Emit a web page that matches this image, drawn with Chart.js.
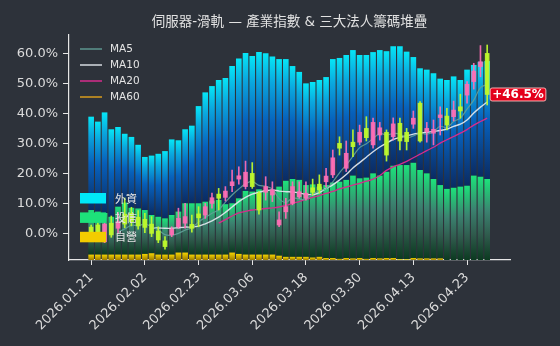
<!DOCTYPE html>
<html>
<head>
<meta charset="utf-8">
<script src="https://cdn.jsdelivr.net/npm/chart.js@4.4.1/dist/chart.umd.min.js"></script>
<style>
  html, body { margin: 0; padding: 0; background: #2d323a; }
  #wrap { width: 560px; height: 346px; }
</style>
</head>
<body>
<div id="wrap"><canvas id="chart" width="560" height="346"></canvas></div>
<script>
// trading days shown on the x axis
const dates = [
  "2026.01.21", "2026.01.22", "2026.01.23", "2026.01.26", "2026.01.27", "2026.01.28", "2026.01.29", "2026.01.30",
  "2026.02.02", "2026.02.03", "2026.02.04", "2026.02.05", "2026.02.06", "2026.02.09", "2026.02.10", "2026.02.11",
  "2026.02.23", "2026.02.24", "2026.02.25", "2026.02.26", "2026.03.02", "2026.03.03", "2026.03.04", "2026.03.05",
  "2026.03.06", "2026.03.09", "2026.03.10", "2026.03.11", "2026.03.12", "2026.03.13", "2026.03.16", "2026.03.17",
  "2026.03.18", "2026.03.19", "2026.03.20", "2026.03.23", "2026.03.24", "2026.03.25", "2026.03.26", "2026.03.27",
  "2026.03.30", "2026.03.31", "2026.04.01", "2026.04.02", "2026.04.07", "2026.04.08", "2026.04.09", "2026.04.10",
  "2026.04.13", "2026.04.14", "2026.04.15", "2026.04.16", "2026.04.17", "2026.04.20", "2026.04.21", "2026.04.22",
  "2026.04.23", "2026.04.24", "2026.04.27", "2026.04.28"
];
const tickIdx = [0, 8, 16, 24, 32, 40, 48, 56];
const yTicks = [0, 10, 20, 30, 40, 50, 60];

// industry index, cumulative return in %
const opens = [2.3, 3.0, -2.6, 3.6, 1.9, 6.6, 6.9, 5.6, 4.9, 3.3, 1.0, -2.3, -0.3, 2.4, 3.6, 3.2,
  6.7, 6.3, 10.2, 13.3, 12.2, 16.1, 18.3, 15.8, 20.2, 13.6, 13.9, 13.0, 3.0, 7.4, 10.2, 12.4,
  11.9, 15.4, 16.6, 17.4, 19.7, 30.2, 21.9, 30.6, 30.6, 35.2, 29.7, 33.0, 33.9, 32.4, 36.9, 33.9,
  36.6, 43.6, 34.1, 33.6, 38.8, 39.3, 39.1, 42.4, 46.3, 50.8, 55.8, 60.2];
const highs = [3.0, 4.4, 4.9, 6.0, 7.1, 12.0, 8.9, 7.8, 6.9, 5.8, 2.4, -0.9, 2.4, 8.6, 10.2, 6.3,
  9.1, 10.2, 13.6, 15.2, 15.8, 21.3, 22.4, 24.3, 23.8, 14.1, 19.1, 17.4, 7.4, 11.9, 17.4, 17.4,
  17.4, 18.3, 19.7, 21.9, 28.0, 32.4, 31.0, 34.7, 36.3, 39.1, 38.6, 37.2, 34.7, 38.7, 38.6, 35.2,
  41.0, 44.1, 37.2, 38.0, 42.4, 41.9, 44.3, 46.6, 50.8, 56.9, 62.8, 63.0];
const lows = [-2.6, -2.6, -2.9, -1.1, 0.2, 2.1, 2.7, 1.6, 0.4, -0.9, -2.9, -5.1, -0.9, 1.9, 1.9, 0.6,
  2.4, 5.2, 8.6, 8.0, 11.0, 14.1, 16.6, 15.0, 15.2, 6.6, 11.3, 10.8, 2.4, 5.2, 9.7, 11.9,
  11.3, 13.0, 13.6, 15.8, 18.8, 26.3, 20.8, 25.8, 29.7, 31.0, 28.6, 31.3, 24.3, 31.3, 28.0, 28.0,
  35.2, 30.6, 30.6, 29.7, 33.0, 34.7, 37.7, 38.6, 43.6, 48.3, 52.4, 43.0];
const closes = [-2.0, -2.0, 3.3, -0.3, 4.1, 3.3, 4.1, 2.7, 2.2, 0.2, -2.0, -4.2, 1.6, 5.2, 5.8, 1.9,
  5.4, 9.1, 12.1, 11.9, 14.3, 17.4, 19.4, 20.6, 15.8, 8.0, 15.8, 14.7, 4.7, 9.1, 15.8, 14.1,
  13.6, 13.9, 14.7, 19.3, 25.4, 28.6, 26.9, 29.1, 33.9, 32.1, 37.2, 35.4, 26.3, 36.7, 31.0, 30.8,
  38.6, 31.0, 35.2, 34.9, 39.7, 36.3, 41.3, 41.0, 49.9, 54.3, 57.4, 46.5];

const ma5 = [null, null, null, null, 0.6, 1.7, 2.9, 2.8, 3.3, 2.5, 1.4, -0.2, -0.4, 0.2, 1.3, 2.1,
  4.0, 5.5, 6.9, 8.1, 10.6, 13.0, 15.0, 16.7, 17.5, 16.2, 15.9, 15.0, 11.8, 10.5, 12.0, 11.7,
  11.5, 13.3, 14.4, 15.1, 17.4, 20.4, 23.0, 25.9, 28.8, 30.1, 31.8, 33.5, 33.0, 33.5, 33.3, 32.0,
  32.7, 33.6, 33.3, 34.1, 35.9, 35.4, 37.5, 38.6, 41.6, 44.6, 48.8, 49.8];
const ma10 = [null, null, null, null, null, null, null, null, null, 2.0, 2.0, 1.9, 1.9, 2.1, 2.3, 2.3,
  2.6, 3.4, 4.4, 5.6, 7.2, 9.0, 10.8, 12.2, 13.3, 13.9, 14.4, 14.7, 14.3, 14.1, 14.0, 13.7,
  13.2, 13.1, 13.8, 15.2, 16.4, 18.0, 19.8, 22.0, 23.8, 25.6, 27.4, 29.0, 30.3, 31.5, 32.2, 32.7,
  33.3, 33.6, 33.9, 34.2, 34.5, 35.0, 35.9, 36.6, 38.0, 40.3, 42.3, 44.0];
const ma20 = [null, null, null, null, null, null, null, null, null, null, null, null, null, null, null, null,
  null, null, null, 3.6, 4.8, 6.0, 7.0, 7.5, 8.0, 8.2, 8.5, 8.7, 9.0, 9.5, 10.2, 10.8,
  11.5, 12.2, 12.8, 13.5, 14.2, 15.0, 15.6, 16.3, 16.9, 17.6, 18.3, 19.5, 21.2, 22.4, 23.2, 24.2,
  25.4, 26.6, 27.8, 28.9, 30.3, 31.4, 32.5, 33.6, 34.8, 36.3, 37.5, 38.6];
const ma60 = [];

// three major institutional investors, chip stack (bottom to top)
const chipDealer = [2.4, 2.4, 2.4, 2.4, 2.4, 2.4, 2.4, 2.4, 2.7, 3.0, 2.4, 2.4, 2.4, 3.3, 3.3, 2.4,
  2.4, 2.4, 2.4, 2.4, 2.4, 3.3, 2.7, 2.4, 2.4, 2.4, 2.4, 2.4, 1.9, 1.4, 1.4, 1.4,
  1.4, 1.1, 1.4, 0.9, 0.9, 0.5, 0.9, 0.7, 0.9, 0.5, 0.9, 0.7, 0.9, 0.9, 0.3, 0.3,
  0.9, 0.7, 0.7, 0.7, 0.7, 0, 0, 0, 0, 0, 0, 0];
const chipTrust = [19.8, 19.1, 18.5, 16.8, 21.3, 23.1, 20.8, 20.5, 19.5, 17.0, 16.8, 16.1, 17.6, 18.2, 21.9, 22.8,
  22.8, 23.5, 24.0, 24.3, 22.4, 21.9, 24.7, 28.3, 28.0, 29.0, 28.7, 28.3, 30.7, 33.8, 34.6, 34.2,
  31.9, 32.5, 31.2, 32.4, 33.5, 34.3, 34.7, 36.8, 35.4, 36.1, 37.6, 36.8, 38.3, 41.0, 41.9, 41.9,
  42.3, 39.3, 37.8, 35.3, 32.6, 31.6, 32.1, 32.6, 33.0, 37.5, 37.0, 36.0];
const chipForeign = [41.5, 40.0, 44.7, 38.9, 35.4, 30.6, 31.5, 28.3, 23.6, 26.4, 28.0, 29.9, 33.6, 31.7, 32.9, 34.5,
  43.2, 48.6, 50.9, 53.3, 56.1, 61.0, 62.2, 61.3, 60.3, 61.0, 60.8, 59.8, 56.7, 54.1, 50.2, 48.0,
  45.2, 45.5, 47.4, 48.0, 54.9, 55.0, 55.5, 55.8, 54.8, 54.5, 53.9, 55.8, 53.6, 53.1, 52.8, 50.4,
  47.0, 45.2, 46.1, 47.0, 47.3, 48.4, 49.5, 47.4, 51.6, 49.2, 51.1, 52.4];

const chipNames = ["外資", "投信", "自營"];
const maNames = ["MA5", "MA10", "MA20", "MA60"];
const titleText = "伺服器-滑軌 — 產業指數 & 三大法人籌碼堆疊";
const lastText = "+46.5%";

const upColor = "rgba(255,110,180,0.92)";
const downColor = "rgba(190,248,44,0.95)";
const maColors = ["rgba(98,160,152,0.9)", "rgba(222,228,234,0.95)", "#d62c8c", "#d89c1c"];
const chipSwatch = ["#00e8f8", "#1de27a", "#f2cc00"];

Chart.defaults.font.family = '"DejaVu Sans", "Noto Sans CJK TC", sans-serif';
Chart.defaults.color = "#dcdcdc";

function chipGradient(ctx, baseOf, vals, stops) {
  const chart = ctx.chart;
  if (!chart.chartArea || ctx.type !== "data") return stops[0][1];
  const ys = chart.scales.yb;
  const i = ctx.dataIndex;
  const base = baseOf(i);
  const y0 = ys.getPixelForValue(base + vals[i]);
  const y1 = ys.getPixelForValue(base);
  if (y1 - y0 < 1) return stops[0][1];
  const g = chart.ctx.createLinearGradient(0, y0, 0, y1);
  stops.forEach(s => g.addColorStop(s[0], s[1]));
  return g;
}

const blueStops = [[0, "#06e6f6"], [0.2, "#0aa6de"], [0.5, "#0760bb"], [1, "#0b2b62"]];
const greenStops = [[0, "#1ee27c"], [0.12, "#24c676"], [0.4, "#3b8270"], [0.7, "#2f5a4c"], [1, "#0b3a20"]];
const yellowStops = [[0, "#f4d400"], [1, "#9c7c00"]];

const idx = dates.map((d, i) => i);

const extras = {
  id: "extras",
  beforeDraw(chart) {
    const c = chart.ctx;
    c.save();
    c.fillStyle = "#2d323a";
    c.fillRect(0, 0, chart.width, chart.height);
    c.restore();
  },
  afterDraw(chart) {
    const c = chart.ctx;
    const a = chart.chartArea;
    c.save();
    // title
    c.fillStyle = "#e2e2e2";
    c.font = '13.5px "DejaVu Sans", "Noto Sans CJK TC", sans-serif';
    c.textAlign = "center";
    c.textBaseline = "middle";
    c.fillText(titleText, (a.left + a.right) / 2, 22);

    // MA legend
    c.textAlign = "left";
    c.font = '10.5px "DejaVu Sans", sans-serif';
    maNames.forEach((n, k) => {
      const y = a.top + 14 + k * 16;
      c.strokeStyle = maColors[k];
      c.lineWidth = 1.5;
      c.beginPath();
      c.moveTo(a.left + 11, y);
      c.lineTo(a.left + 33, y);
      c.stroke();
      c.fillStyle = "#e4e4e4";
      c.fillText(n, a.left + 41, y + 0.5);
    });

    // chip legend
    c.font = '11px "Noto Sans CJK TC", sans-serif';
    chipNames.forEach((n, k) => {
      const y = a.top + 158 + k * 19.4;
      c.fillStyle = chipSwatch[k];
      c.fillRect(a.left + 11, y, 26, 10.5);
      c.fillStyle = "#e4e4e4";
      c.fillText(n, a.left + 46, y + 5.5);
    });

    // last value tag
    const last = closes.length - 1;
    const x = chart.scales.x.getPixelForValue(last) + 3;
    const y = chart.scales.y.getPixelForValue(closes[last]);
    c.font = 'bold 12px "DejaVu Sans", sans-serif';
    const w = c.measureText(lastText).width + 4;
    c.fillStyle = "#e4001a";
    c.strokeStyle = "rgba(255,190,190,0.9)";
    c.lineWidth = 1;
    c.beginPath();
    c.roundRect(x, y - 6.5, w, 13, 2);
    c.fill();
    c.stroke();
    c.fillStyle = "#ffffff";
    c.fillText(lastText, x + 2, y + 0.5);
    c.restore();
  }
};

const lineSet = (label, arr, color, width) => ({
  type: "line",
  label: label,
  data: arr.map((v, i) => ({ x: i, y: v })),
  borderColor: color,
  borderWidth: width,
  pointRadius: 0,
  tension: 0.35,
  yAxisID: "y",
  order: 2
});

new Chart(document.getElementById("chart"), {
  type: "bar",
  data: {
    datasets: [
      {
        label: "K",
        data: idx.map(i => ({ x: i, y: [opens[i], closes[i]] })),
        backgroundColor: ctx => closes[ctx.dataIndex] >= opens[ctx.dataIndex] ? upColor : downColor,
        barThickness: 4,
        grouped: false,
        yAxisID: "y",
        order: 0
      },
      {
        label: "wick",
        data: idx.map(i => ({ x: i, y: [lows[i], highs[i]] })),
        backgroundColor: ctx => closes[ctx.dataIndex] >= opens[ctx.dataIndex] ? upColor : downColor,
        barThickness: 1,
        grouped: false,
        yAxisID: "y",
        order: 1
      },
      lineSet("MA5", ma5, maColors[0], 1.2),
      lineSet("MA10", ma10, maColors[1], 1.4),
      lineSet("MA20", ma20, maColors[2], 1.3),
      lineSet("MA60", ma60, maColors[3], 1.3),
      {
        label: chipNames[2],
        data: idx.map(i => ({ x: i, y: chipDealer[i] })),
        backgroundColor: ctx => chipGradient(ctx, () => 0, chipDealer, yellowStops),
        yAxisID: "yb",
        stack: "chip",
        grouped: false,
        categoryPercentage: 1,
        barPercentage: 0.84,
        order: 3
      },
      {
        label: chipNames[1],
        data: idx.map(i => ({ x: i, y: chipTrust[i] })),
        backgroundColor: ctx => chipGradient(ctx, i => chipDealer[i], chipTrust, greenStops),
        yAxisID: "yb",
        stack: "chip",
        grouped: false,
        categoryPercentage: 1,
        barPercentage: 0.84,
        order: 4
      },
      {
        label: chipNames[0],
        data: idx.map(i => ({ x: i, y: chipForeign[i] })),
        backgroundColor: ctx => chipGradient(ctx, i => chipDealer[i] + chipTrust[i], chipForeign, blueStops),
        yAxisID: "yb",
        stack: "chip",
        grouped: false,
        categoryPercentage: 1,
        barPercentage: 0.84,
        order: 5
      }
    ]
  },
  options: {
    responsive: false,
    animation: false,
    layout: { padding: { top: 35, right: 50, left: 0, bottom: 0 } },
    plugins: { legend: { display: false }, tooltip: { enabled: false }, title: { display: false } },
    scales: {
      x: {
        type: "linear",
        min: -3.3,
        max: 62.4,
        offset: false,
        afterBuildTicks: s => { s.ticks = tickIdx.map(v => ({ value: v })); },
        afterFit: s => { s.height = 86; },
        ticks: {
          autoSkip: false,
          minRotation: 45,
          maxRotation: 45,
          padding: 5,
          color: "#dcdcdc",
          font: { size: 13 },
          callback: v => dates[v]
        },
        grid: { drawOnChartArea: false, drawTicks: true, tickLength: 5, color: "#e6e6e6", offset: false },
        border: { color: "#e6e6e6", width: 1.2 }
      },
      y: {
        min: -8.67,
        max: 66.33,
        afterBuildTicks: s => { s.ticks = yTicks.map(v => ({ value: v })); },
        afterFit: s => { s.width = 69; },
        ticks: {
          padding: 5,
          color: "#dcdcdc",
          font: { size: 13 },
          callback: v => v.toFixed(1) + "%"
        },
        grid: { drawOnChartArea: false, drawTicks: true, tickLength: 6, color: "#e6e6e6" },
        border: { color: "#e6e6e6", width: 1.2 }
      },
      yb: {
        display: false,
        stacked: true,
        min: 0,
        max: 100
      }
    }
  },
  plugins: [extras]
});
</script>
</body>
</html>
